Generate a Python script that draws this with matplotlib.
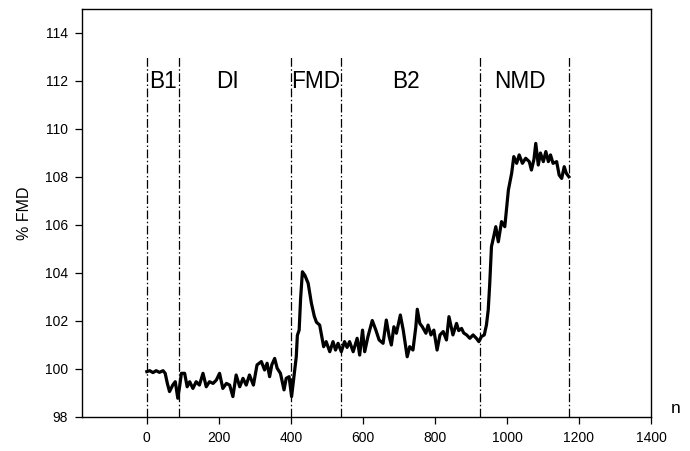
import matplotlib
matplotlib.use("Agg")
import matplotlib.pyplot as plt

plt.rcParams['font.family'] = ['Liberation Sans', 'DejaVu Sans']

# Sample index n and %FMD values
n = [0, 8, 17, 26, 35, 45, 51, 57, 63, 72, 79, 86, 91, 96, 105, 112, 119, 128, 137,
     146, 156, 165, 174, 184, 193, 202, 211, 221, 230, 239, 248, 258, 267, 276, 285,
     296, 306, 318, 327, 334, 341, 347, 355, 362, 371, 381, 387, 395, 402, 409, 415,
     418, 423, 427, 432, 439, 448, 457, 465, 471, 480, 485, 491, 498, 508, 517, 524,
     531, 540, 549, 556, 563, 573, 584, 591, 599, 605, 614, 626, 636, 645, 656, 665,
     673, 679, 686, 693, 704, 712, 723, 730, 739, 747, 751, 758, 765, 775, 781, 789,
     797, 806, 814, 823, 832, 839, 850, 860, 866, 874, 880, 888, 897, 906, 915, 922,
     929, 937, 943, 948, 952, 957, 963, 969, 976, 985, 994, 1004, 1013, 1019, 1027,
     1034, 1043, 1052, 1062, 1068, 1075, 1080, 1087, 1093, 1101, 1108, 1115, 1121,
     1128, 1138, 1145, 1152, 1159, 1165, 1172]
fmd = [99.89, 99.93, 99.85, 99.93, 99.86, 99.93, 99.82, 99.40, 99.06, 99.33, 99.47,
       98.78, 99.26, 99.82, 99.82, 99.26, 99.47, 99.19, 99.47, 99.33, 99.82, 99.26,
       99.47, 99.40, 99.54, 99.82, 99.19, 99.40, 99.33, 98.85, 99.75, 99.26, 99.61,
       99.33, 99.75, 99.33, 100.17, 100.31, 99.96, 100.24, 99.68, 100.17, 100.44,
       100.03, 99.82, 99.13, 99.61, 99.68, 98.85, 99.75, 100.51, 101.40, 101.62,
       102.93, 104.05, 103.90, 103.57, 102.74, 102.20, 101.95, 101.83, 101.42, 100.93,
       101.14, 100.72, 101.14, 100.79, 101.07, 100.72, 101.14, 100.90, 101.14, 100.72,
       101.28, 100.58, 101.62, 100.72, 101.35, 102.02, 101.62, 101.21, 101.07, 102.04,
       101.35, 101.00, 101.76, 101.49, 102.25, 101.62, 100.51, 100.93, 100.79, 101.76,
       102.49, 101.90, 101.76, 101.49, 101.83, 101.42, 101.62, 100.79, 101.42, 101.56,
       101.21, 102.18, 101.42, 101.90, 101.60, 101.69, 101.50, 101.42, 101.28, 101.42,
       101.28, 101.14, 101.35, 101.42, 101.83, 102.46, 103.50, 105.10, 105.50, 105.93,
       105.30, 106.14, 105.93, 107.46, 108.15, 108.85, 108.57, 108.92, 108.57, 108.78,
       108.64, 108.29, 108.74, 109.40, 108.50, 109.00, 108.64, 109.06, 108.64, 108.92,
       108.57, 108.64, 108.08, 107.94, 108.43, 108.15, 108.01]

phase_bounds = [0, 90, 400, 540, 925, 1172]
phase_names = ["B1", "DI", "FMD", "B2", "NMD"]
phase_label_x = [45, 225, 470, 720, 1035]

xticks = [0, 200, 400, 600, 800, 1000, 1200, 1400]
yticks = [98, 100, 102, 104, 106, 108, 110, 112, 114]

fig = plt.figure(figsize=(6.9, 4.51), dpi=100)
ax = fig.add_axes([82/690, 1 - 417/451, (651 - 82)/690, (417 - 9)/451])

for b in phase_bounds:
    ax.plot([b, b], [98, 113], color='black', lw=0.9, linestyle='-.', dashes=(7, 2, 1.2, 2))

ax.plot(n, fmd, color='black', lw=2.3, solid_joinstyle='round')

for lab, lx in zip(phase_names, phase_label_x):
    ax.text(lx, 112.0, lab, fontsize=16.3, ha='center', va='center')

ax.set_xlim(-180, 1400)
ax.set_ylim(98, 115)
ax.set_xticks(xticks)
ax.set_yticks(yticks)
ax.tick_params(direction='out', length=5, width=0.9, labelsize=10, pad=5,
               top=False, right=False)
ax.set_ylabel('% FMD', fontsize=11.5, labelpad=9)
ax.text(1.043, 0.02, 'n', transform=ax.transAxes, fontsize=12.5, ha='center', va='center')
for s in ax.spines.values():
    s.set_linewidth(1.0)

fig.savefig('out.png', dpi=100)
